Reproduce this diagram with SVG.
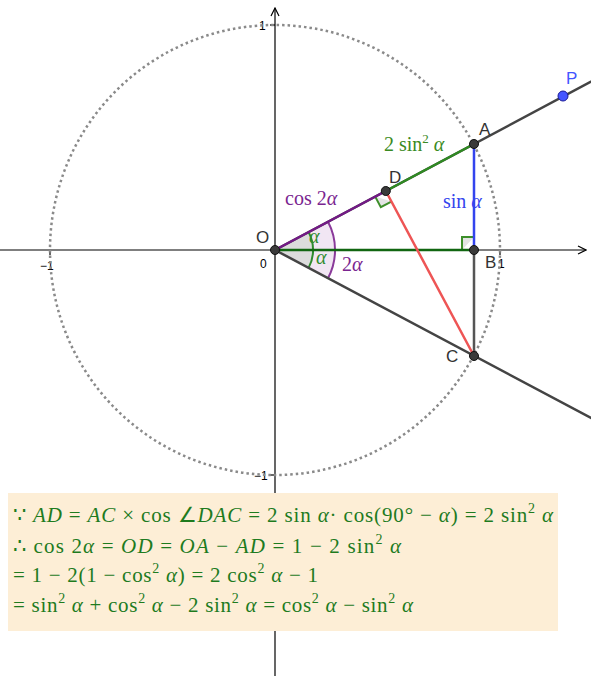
<svg xmlns="http://www.w3.org/2000/svg" width="591" height="676" viewBox="0 0 591 676">
<style>
.ax{stroke:#000;stroke-width:1.2;fill:none}
.pl{font-family:"Liberation Sans",Arial,sans-serif;font-size:17px;fill:#333}
.tk{font-family:"Liberation Sans",Arial,sans-serif;font-size:12px;fill:#000}
.m{font-family:"Liberation Serif","Times New Roman",serif;font-size:20px}
.mi{font-style:italic}
.pt{fill:#3a3a3a;stroke:#111;stroke-width:1}
.eq{font-family:"Liberation Serif","Times New Roman",serif;font-size:21px;fill:#1e7b1e}
</style>
<defs>
<marker id="arr" viewBox="0 0 10 10" refX="9" refY="5" markerWidth="10" markerHeight="10" markerUnits="userSpaceOnUse" orient="auto">
<path d="M1,1 L9,5 L1,9" fill="none" stroke="#000" stroke-width="1.2"/>
</marker>
</defs>
<g id="axes">
<line class="ax" x1="0" y1="250" x2="586" y2="250" marker-end="url(#arr)"/>
<line class="ax" x1="275" y1="676" x2="275" y2="8" marker-end="url(#arr)"/>
<line class="ax" x1="500" y1="250" x2="500" y2="255"/>
<line class="ax" x1="50" y1="250" x2="50" y2="255"/>
<line class="ax" x1="270" y1="25" x2="275" y2="25"/>
<line class="ax" x1="270" y1="475" x2="275" y2="475"/>
<text class="tk" x="259" y="30">1</text>
<text class="tk" x="40" y="270">−1</text>
<text class="tk" x="260" y="268">0</text>
<text class="tk" x="254" y="480">−1</text>
<text class="tk" x="498" y="268">1</text>
</g>
<g id="circle">
<circle cx="275" cy="250" r="225" fill="none" stroke="#8a8a8a" stroke-width="2.5" stroke-dasharray="2.5,3"/>
</g>
<g id="angles">
<path d="M275,250 L328,221.8 A60,60 0 0 1 328,278.2 Z" fill="#f1e6f3" stroke="none"/>
<path d="M328,221.8 A60,60 0 0 1 328,278.2" fill="none" stroke="#8a3a9a" stroke-width="2"/>
<path d="M275,250 L313,250 A38,38 0 0 0 308.6,232.1 Z" fill="#dcdcdc" stroke="none"/>
<path d="M275,250 L313,250 A38,38 0 0 1 308.6,267.9 Z" fill="#dcdcdc" stroke="none"/>
<path d="M308.6,232.1 A38,38 0 0 1 308.6,267.9" fill="none" stroke="#2e8b2e" stroke-width="2"/>
<path d="M375.2,196.6 L380.8,207.2 L391.4,201.6" fill="#e4e4e4" stroke="#3d8f2a" stroke-width="2"/>
<path d="M462,250 L462,237 L474,237" fill="#e4e4e4" stroke="#3d8f2a" stroke-width="2"/>
</g>
<g id="connectors" stroke-linecap="round">
<line x1="275" y1="250" x2="591" y2="81.7" stroke="#444" stroke-width="2.5"/>
<line x1="275" y1="250" x2="591" y2="418" stroke="#444" stroke-width="2.5"/>
<line x1="474" y1="250" x2="474" y2="356" stroke="#555" stroke-width="2.5"/>
<line x1="275" y1="250" x2="474" y2="250" stroke="#116611" stroke-width="2.5"/>
<line x1="275" y1="250" x2="385.8" y2="191" stroke="#731a86" stroke-width="2.5"/>
<line x1="385.8" y1="191" x2="474" y2="144" stroke="#2f8a22" stroke-width="2.5"/>
<line x1="474" y1="144" x2="474" y2="250" stroke="#3344ee" stroke-width="2.5"/>
<line x1="385.8" y1="191" x2="474" y2="356" stroke="#ee5555" stroke-width="2.5"/>
</g>
<g id="O"><circle class="pt" cx="275" cy="250" r="4.5"/><text class="pl" x="256" y="243">O</text></g>
<g id="D"><circle class="pt" cx="385.8" cy="191" r="4.5"/><text class="pl" x="389" y="183">D</text></g>
<g id="A"><circle class="pt" cx="474" cy="144" r="4.5"/><text class="pl" x="479" y="135">A</text></g>
<g id="B"><circle class="pt" cx="474" cy="250" r="4.5"/><text class="pl" x="485" y="268">B</text></g>
<g id="C"><circle class="pt" cx="474" cy="356" r="4.5"/><text class="pl" x="446" y="362">C</text></g>
<g id="P"><circle cx="563" cy="96" r="5" fill="#4455ff" stroke="#1a1a99" stroke-width="1"/><text class="pl" x="566" y="84" style="fill:#4455ff">P</text></g>
<g id="labels">
<text class="m" x="285" y="205" fill="#7a2590">cos 2<tspan class="mi">α</tspan></text>
<text class="m" x="384" y="151" fill="#3a8a22">2 sin<tspan dy="-8" font-size="13">2</tspan><tspan dy="8" class="mi"> α</tspan></text>
<text class="m" x="443" y="208" fill="#3344ee">sin <tspan class="mi">α</tspan></text>
<text class="m" x="342" y="271" fill="#7a2590">2<tspan class="mi">α</tspan></text>
<text class="m mi" x="309" y="243" fill="#2e8b2e" font-size="17">α</text>
<text class="m mi" x="316" y="264" fill="#2e8b2e" font-size="17">α</text>
</g>
<g id="formula">
<rect x="8" y="493" width="550" height="138" fill="#fdeed6"/>
<text class="eq" x="13" y="522" textLength="540" lengthAdjust="spacing">∵ <tspan class="mi">AD</tspan> = <tspan class="mi">AC</tspan> × cos ∠<tspan class="mi">DAC</tspan> = 2 sin <tspan class="mi">α</tspan>· cos(90° − <tspan class="mi">α</tspan>) = 2 sin<tspan dy="-9" font-size="14">2</tspan><tspan dy="9" class="mi"> α</tspan></text>
<text class="eq" x="13" y="553" textLength="388" lengthAdjust="spacing">∴ cos 2<tspan class="mi">α</tspan> = <tspan class="mi">OD</tspan> = <tspan class="mi">OA</tspan> − <tspan class="mi">AD</tspan> = 1 − 2 sin<tspan dy="-9" font-size="14">2</tspan><tspan dy="9" class="mi"> α</tspan></text>
<text class="eq" x="13" y="582" textLength="305" lengthAdjust="spacing">= 1 − 2(1 − cos<tspan dy="-9" font-size="14">2</tspan><tspan dy="9" class="mi"> α</tspan>) = 2 cos<tspan dy="-9" font-size="14">2</tspan><tspan dy="9" class="mi"> α</tspan> − 1</text>
<text class="eq" x="13" y="612" textLength="400" lengthAdjust="spacing">= sin<tspan dy="-9" font-size="14">2</tspan><tspan dy="9" class="mi"> α</tspan> + cos<tspan dy="-9" font-size="14">2</tspan><tspan dy="9" class="mi"> α</tspan> − 2 sin<tspan dy="-9" font-size="14">2</tspan><tspan dy="9" class="mi"> α</tspan> = cos<tspan dy="-9" font-size="14">2</tspan><tspan dy="9" class="mi"> α</tspan> − sin<tspan dy="-9" font-size="14">2</tspan><tspan dy="9" class="mi"> α</tspan></text>
</g>
</svg>
